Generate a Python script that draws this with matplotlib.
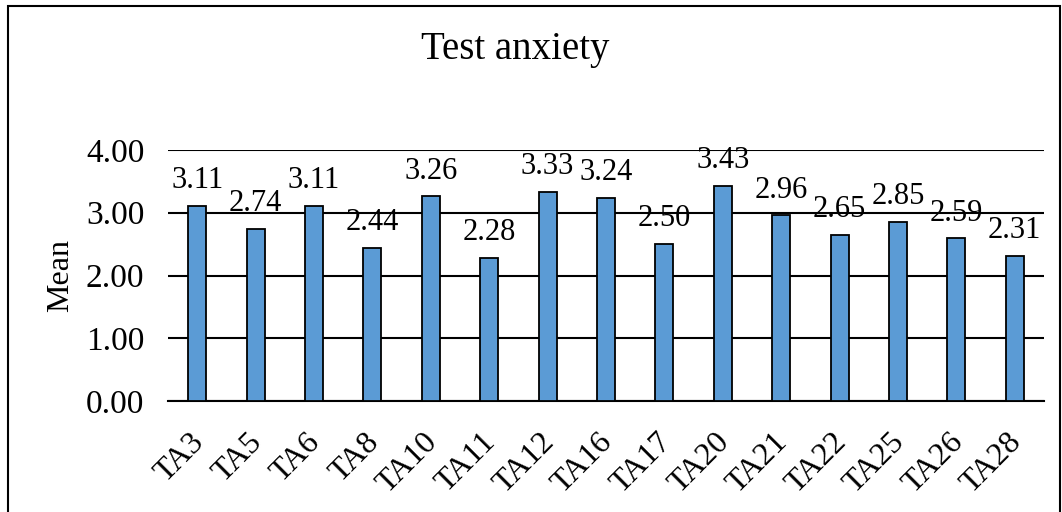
import matplotlib
matplotlib.use('Agg')
import matplotlib.pyplot as plt
import matplotlib.patches as patches
import matplotlib.transforms as mtransforms
import numpy as np

plt.rcParams['font.family'] = ['Liberation Serif', 'DejaVu Serif']

# data
items = ['TA3', 'TA5', 'TA6', 'TA8', 'TA10', 'TA11', 'TA12', 'TA16',
         'TA17', 'TA20', 'TA21', 'TA22', 'TA25', 'TA26', 'TA28']
means = [3.11, 2.74, 3.11, 2.44, 3.26, 2.28, 3.33, 3.24,
         2.50, 3.43, 2.96, 2.65, 2.85, 2.59, 2.31]
yticks = [0, 1, 2, 3, 4]

W, H = 1062, 512
fig = plt.figure(figsize=(W / 100, H / 100), dpi=100)
ax = fig.add_axes([168 / W, 1 - 401 / H, (1044 - 168) / W, (401 - 150) / H])

x = np.arange(len(items))
ax.bar(x, means, width=0.31, color='#5B9BD5', edgecolor='black',
       linewidth=1.3, zorder=3)

for xi, v in zip(x, means):
    ax.text(xi, v + 0.17, f'{v:.2f}', ha='center', va='bottom', fontsize=22, zorder=4)

ax.set_xlim(-0.5, len(items) - 0.5)
ax.set_ylim(0, 4)
ax.set_yticks(yticks)
ax.set_yticklabels([f'{t:.2f}' for t in yticks], fontsize=24)
ax.yaxis.grid(True, color='black', linewidth=1.5, zorder=0)
ax.set_axisbelow(True)
ax.tick_params(axis='y', length=0, pad=17)
ax.tick_params(axis='x', length=0, pad=19)
ax.set_xticks(x)
ax.set_xticklabels(items, rotation=45, ha='right', rotation_mode='anchor', fontsize=23)
# nudge rotated labels a bit to the left like the original
shift = mtransforms.ScaledTranslation(-8 / 100, 0, fig.dpi_scale_trans)
for lab in ax.get_xticklabels():
    lab.set_transform(lab.get_transform() + shift)
for s in ['top', 'right', 'left']:
    ax.spines[s].set_visible(False)
ax.spines['bottom'].set_linewidth(1.5)

fig.text(61 / W, 1 - 276 / H, 'Mean', rotation=90, ha='center', va='center', fontsize=23)
fig.text(515 / W, 1 - 50 / H, 'Test anxiety', ha='center', va='center', fontsize=28)

frame = patches.Rectangle((8 / W, -0.02), (1060 - 8) / W, 1 - 6 / H + 0.02,
                          transform=fig.transFigure, fill=False,
                          edgecolor='black', linewidth=1.5)
fig.patches.append(frame)

fig.savefig('out.png', dpi=100)
